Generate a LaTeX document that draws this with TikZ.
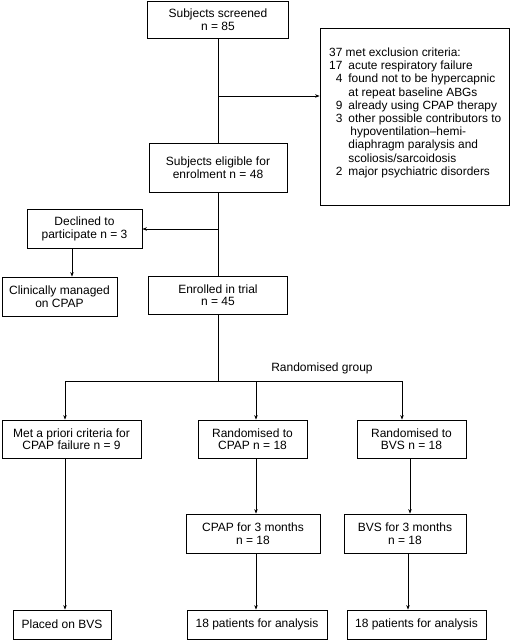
\documentclass[tikz,border=0pt]{standalone}
\usepackage{fontspec}
\setmainfont{Liberation Sans}
\usetikzlibrary{arrows.meta}
\begin{document}
\begin{tikzpicture}[x=1pt,y=-1pt,
  box/.style={draw, line width=0.8pt, align=center, inner sep=0pt,
    font=\fontsize{12}{12.5}\selectfont},
  lbl/.style={inner sep=0pt, font=\fontsize{12}{12.5}\selectfont},
  con/.style={line width=0.7pt},
  arr/.style={line width=0.7pt, -{Stealth[length=4.5pt,width=3.5pt]}}]
\useasboundingbox (0,0) rectangle (512,640);
% boxes
\node[box, minimum width=141pt, minimum height=37pt] (scr) at (218,19.5) {Subjects screened\\n = 85};
\node[box, minimum width=189pt, minimum height=177pt] (excl) at (414.5,116.5) {};
\node[lbl, anchor=base west, font=\fontsize{11.9}{13.2}\selectfont] (excltxt) at (329,56.5)
  {\begin{tabular}[t]{@{}r@{\hspace{6pt}}l@{}}
   \multicolumn{2}{@{}l@{}}{37 met exclusion criteria:}\\
   17 & acute respiratory failure\\
   4 & found not to be hypercapnic\\
     & at repeat baseline ABGs\\
   9 & already using CPAP therapy\\
   3 & other possible contributors to\\
     & \hspace{2pt}hypoventilation–hemi-\\
     & diaphragm paralysis and\\
     & scoliosis/sarcoidosis\\
   2 & major psychiatric disorders
   \end{tabular}};
\node[box, minimum width=138pt, minimum height=49pt] (elig) at (218,167.5) {Subjects eligible for\\enrolment n = 48};
\node[box, minimum width=115pt, minimum height=39pt] (decl) at (84.5,229) {Declined to\\participate n = 3};
\node[box, minimum width=115pt, minimum height=39pt] (clin) at (59.5,296.5) {Clinically managed\\on CPAP};
\node[box, minimum width=139pt, minimum height=38pt] (enr) at (218,295) {Enrolled in trial\\n = 45};
\node[lbl] (rg) at (322,368) {Randomised group};
\node[box, minimum width=139pt, minimum height=38pt] (meta) at (71.5,439) {Met a priori criteria for\\CPAP failure n = 9};
\node[box, minimum width=109pt, minimum height=38pt] (rcpap) at (252.5,439) {Randomised to\\CPAP n = 18};
\node[box, minimum width=109pt, minimum height=38pt] (rbvs) at (411.5,439) {Randomised to\\BVS n = 18};
\node[box, minimum width=134pt, minimum height=39pt] (cpap3) at (253,533.5) {CPAP for 3 months\\n = 18};
\node[box, minimum width=122pt, minimum height=39pt] (bvs3) at (405,533.5) {BVS for 3 months\\n = 18};
\node[box, minimum width=98pt, minimum height=29pt] (placed) at (62,624.5) {Placed on BVS};
\node[box, minimum width=140pt, minimum height=29pt] (p18c) at (257,624.5) {18 patients for analysis};
\node[box, minimum width=139pt, minimum height=29pt] (p18b) at (416.5,624.5) {18 patients for analysis};
% connectors
\coordinate (j1) at (218,96);
\coordinate (j2) at (218,229);
\coordinate (hub) at (218,381);
\coordinate (hl) at (65,381);
\coordinate (hm) at (256,381);
\coordinate (hr) at (402,381);
\draw[con] (scr.south) -- (elig.north);
\draw[arr] (j1) -- (j1 -| excl.west);
\draw[con] (elig.south) -- (enr.north);
\draw[arr] (j2) -- (decl.east);
\draw[arr] (72,0 |- decl.south) -- (72,0 |- clin.north);
\draw[con] (enr.south) -- (hub);
\draw[con] (hl) -- (hr);
\draw[arr] (hl) -- (hl |- meta.north);
\draw[arr] (hm) -- (hm |- rcpap.north);
\draw[arr] (hr) -- (hr |- rbvs.north);
\draw[arr] (65,0 |- meta.south) -- (65,0 |- placed.north);
\draw[arr] (256,0 |- rcpap.south) -- (256,0 |- cpap3.north);
\draw[arr] (256,0 |- cpap3.south) -- (256,0 |- p18c.north);
\draw[arr] (410,0 |- rbvs.south) -- (410,0 |- bvs3.north);
\draw[arr] (408,0 |- bvs3.south) -- (408,0 |- p18b.north);
\end{tikzpicture}
\end{document}
